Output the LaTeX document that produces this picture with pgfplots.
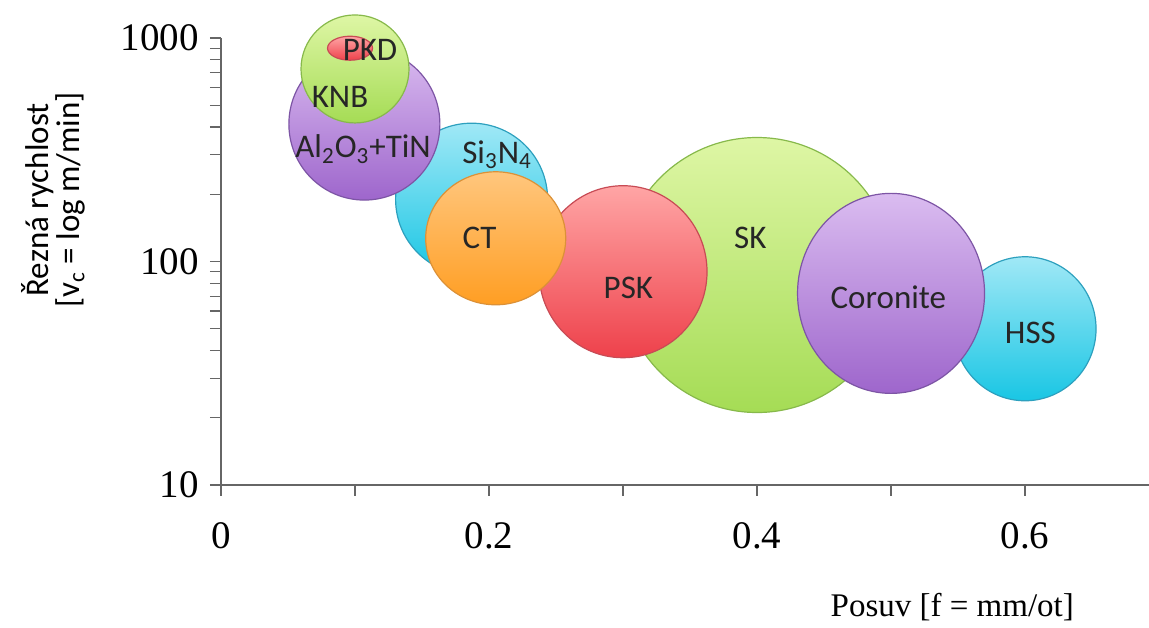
\documentclass[border=0pt]{standalone}
\usepackage{fontspec}
\setmainfont{Liberation Serif}
\newfontfamily\calibri{Carlito}
\usepackage{pgfplots}
\pgfplotsset{compat=1.18}
\usetikzlibrary{shapes.geometric}

\definecolor{gT}{RGB}{222,246,165}\definecolor{gB}{RGB}{165,220,85}\definecolor{gE}{RGB}{135,185,75}
\definecolor{rT}{RGB}{255,165,165}\definecolor{rB}{RGB}{238,65,75}\definecolor{rE}{RGB}{200,75,85}
\definecolor{pT}{RGB}{218,188,240}\definecolor{pB}{RGB}{158,102,204}\definecolor{pE}{RGB}{125,85,165}
\definecolor{cT}{RGB}{160,232,246}\definecolor{cB}{RGB}{25,198,228}\definecolor{cE}{RGB}{45,160,190}
\definecolor{oT}{RGB}{255,198,125}\definecolor{oB}{RGB}{255,158,35}\definecolor{oE}{RGB}{220,145,55}

\pgfplotsset{
  bubble/.style n args={3}{%
    only marks, mark=none, nodes near coords={\mbox{}},
    every node near coord/.style={ellipse, inner sep=0pt, anchor=center,
      minimum width=#2, minimum height=#3,
      top color=#1T, bottom color=#1B, draw=#1E, line width=0.6pt},
  },
}

\begin{document}
\begin{tikzpicture}
\begin{axis}[
  name=ax, scale only axis, width=464pt, height=223.5pt,
  xmin=0, xmax=0.6925, ymin=10, ymax=1000, ymode=log, clip=false,
  axis x line=bottom, axis y line=left,
  axis line style={-, black!60, line width=0.8pt},
  xtick={0,0.1,0.2,0.3,0.4,0.5,0.6},
  xticklabels={0,,0.2,,0.4,,0.6},
  ytick={10,100,1000}, yticklabels={10,100,1000},
  minor ytick={20,30,40,50,60,70,80,90,200,300,400,500,600,700,800,900},
  tick align=outside, major tick length=5.5pt, minor tick length=5.5pt,
  tick style={black!60, line width=0.6pt},
  ticklabel style={font=\fontsize{19.5}{21}\selectfont},
  xticklabel style={yshift=-10pt},
  yticklabel style={xshift=-2pt},
  ylabel={Řezná rychlost\\{[}v\textsubscript{c} = log m/min{]}},
  ylabel style={at={(axis description cs:-0.181,0.638)}, anchor=center, align=center,
    font=\calibri\fontsize{16.5}{15.5}\selectfont},
  xlabel={Posuv [f = mm/ot]},
  xlabel style={at={(axis description cs:0.788,-0.273)}, anchor=center,
    font=\fontsize{16.5}{18}\selectfont},
]
% bubbles, bottom layer first
\addplot[bubble={c}{71pt}{72pt}]      coordinates {(0.6,50)};    % HSS
\addplot[bubble={g}{137pt}{137.5pt}]  coordinates {(0.4,87)};    % SK
\addplot[bubble={p}{93.5pt}{100pt}]   coordinates {(0.5,72)};    % Coronite
\addplot[bubble={r}{84pt}{86pt}]      coordinates {(0.3,90)};    % PSK
\addplot[bubble={c}{76pt}{76pt}]      coordinates {(0.187,190)}; % Si3N4
\addplot[bubble={o}{70pt}{66.5pt}]    coordinates {(0.205,127)}; % CT
\addplot[bubble={p}{75.5pt}{76pt}]    coordinates {(0.107,412)}; % Al2O3+TiN
\addplot[bubble={g}{54pt}{54pt}]      coordinates {(0.1,727)};   % KNB
\addplot[bubble={r}{22.5pt}{12pt}]    coordinates {(0.0963,900)};% PKD
% labels
\addplot[only marks, mark=none, nodes near coords, point meta=explicit symbolic,
  every node near coord/.style={anchor=center, inner sep=0pt,
    font=\calibri\fontsize{16.5}{18}\selectfont, text=black!85}]
  coordinates {
    (0.1112,884)[PKD]
    (0.0888,545)[KNB]
    (0.1060,318)[Al\textsubscript{2}O\textsubscript{3}+TiN]
    (0.206,300)[Si\textsubscript{3}N\textsubscript{4}]
    (0.193,127)[CT]
    (0.304,76)[PSK]
    (0.395,127)[SK]
    (0.498,69.4)[Coronite]
    (0.604,48)[HSS]
  };
\end{axis}
\pgfresetboundingbox
\path[use as bounding box] ([xshift=-110.5pt,yshift=-71.5pt]ax.south west) rectangle ([yshift=19pt]ax.north east);
\end{tikzpicture}
\end{document}
